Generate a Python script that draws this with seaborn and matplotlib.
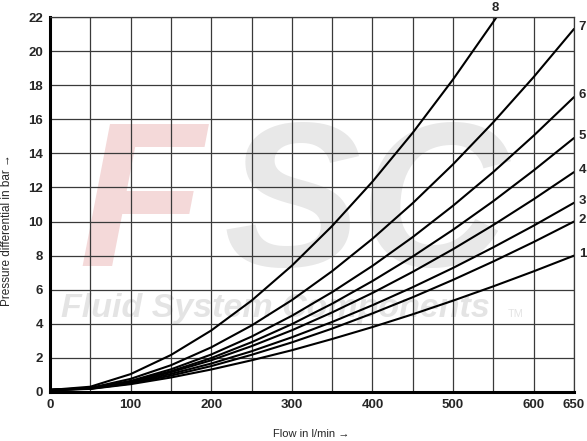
import numpy as np
import pandas as pd
import matplotlib
matplotlib.use('Agg')
import matplotlib.pyplot as plt
import seaborn as sns

# pressure differential (bar), flow in l/min
flow = [0, 50, 100, 150, 200, 250, 300, 350, 400, 450, 500, 550, 600, 650]
curve_1 = [0.12, 0.18, 0.46, 0.85, 1.32, 1.86, 2.45, 3.11, 3.81, 4.56, 5.36, 6.20, 7.08, 8.0]
curve_2 = [0.12, 0.19, 0.50, 0.96, 1.52, 2.18, 2.91, 3.72, 4.61, 5.56, 6.58, 7.66, 8.80, 10.0]
curve_3 = [0.12, 0.20, 0.55, 1.06, 1.67, 2.39, 3.21, 4.11, 5.09, 6.15, 7.28, 8.49, 9.76, 11.1]
curve_4 = [0.12, 0.21, 0.60, 1.16, 1.86, 2.69, 3.62, 4.67, 5.81, 7.05, 8.38, 9.80, 11.31, 12.9]
curve_5 = [0.12, 0.21, 0.61, 1.22, 1.99, 2.92, 3.98, 5.18, 6.51, 7.95, 9.52, 11.20, 13.00, 14.9]
curve_6 = [0.12, 0.22, 0.65, 1.33, 2.20, 3.25, 4.47, 5.86, 7.40, 9.09, 10.93, 12.91, 15.04, 17.3]
curve_7 = [0.12, 0.24, 0.77, 1.57, 2.62, 3.90, 5.39, 7.09, 8.99, 11.08, 13.36, 15.83, 18.48, 21.3]
flow_8 = [0, 50, 100, 150, 200, 250, 300, 350, 400, 450, 500, 550, 554]
curve_8 = [0.12, 0.31, 1.05, 2.17, 3.61, 5.36, 7.41, 9.74, 12.34, 15.21, 18.34, 21.72, 22.0]

curve_names = ['1', '2', '3', '4', '5', '6', '7', '8']
curve_values = [curve_1, curve_2, curve_3, curve_4, curve_5, curve_6, curve_7, curve_8]
curve_flows = [flow] * 7 + [flow_8]

x_ticks = [0, 100, 200, 300, 400, 500, 600, 650]
x_minor = [50, 150, 250, 350, 450, 550]
y_ticks = [0, 2, 4, 6, 8, 10, 12, 14, 16, 18, 20, 22]

frames = []
for name, fl, vals in zip(curve_names, curve_flows, curve_values):
    frames.append(pd.DataFrame({'flow': fl, 'dp': vals, 'curve': name}))
d = pd.concat(frames, ignore_index=True)

sns.set_style('white')
plt.rcParams['font.family'] = ['Liberation Sans', 'DejaVu Sans']

fig = plt.figure(figsize=(5.87, 4.41), dpi=100)
ax = fig.add_axes([50 / 587, 1 - 392 / 441, 524 / 587, 375 / 441])
ax.set_axisbelow(True)

# faint FSC watermark behind the grid
ax.text(35, 7.4, 'F', fontsize=148, fontweight='bold', fontstyle='italic',
        color='#f4d9d9', zorder=0.1, ha='left', va='baseline')
ax.text(215, 7.4, 'SC', fontsize=148, fontweight='bold', fontstyle='italic',
        color='#e8e8e8', zorder=0.1, ha='left', va='baseline')
ax.text(14, 4.4, 'Fluid System Components', fontsize=24.5, fontweight='bold',
        fontstyle='italic', color='#e4e4e4', zorder=0.1, ha='left', va='baseline')
ax.text(568, 4.4, 'TM', fontsize=8, color='#e4e4e4', zorder=0.1, ha='left', va='baseline')

sns.lineplot(data=d, x='flow', y='dp', hue='curve', palette={n: 'black' for n in curve_names},
             linewidth=1.5, legend=False, ax=ax, estimator=None)

ax.set_xlim(0, 650)
ax.set_ylim(0, 22)
ax.set_xticks(x_ticks)
ax.set_xticks(x_minor, minor=True)
ax.set_yticks(y_ticks)
ax.grid(True, which='both', color='#3a3a3a', linewidth=0.9)
ax.tick_params(which='both', length=0, labelsize=9.5, pad=5)
for lab in ax.get_xticklabels() + ax.get_yticklabels():
    lab.set_fontweight('bold')
ax.set_xlabel('')
ax.set_ylabel('')

for s in ['left', 'bottom']:
    ax.spines[s].set_linewidth(2.2)
    ax.spines[s].set_color('black')
for s in ['top', 'right']:
    ax.spines[s].set_linewidth(0.9)
    ax.spines[s].set_color('#3a3a3a')

# curve numbers at the line ends
for name, fl, vals in zip(curve_names[:7], curve_flows[:7], curve_values[:7]):
    ax.text(fl[-1] + 6, vals[-1] + 0.1, name, fontsize=9.5, fontweight='bold',
            ha='left', va='center', clip_on=False)
ax.text(flow_8[-1] - 2, 22.55, '8', fontsize=9.5, fontweight='bold', ha='center',
        va='center', clip_on=False)

fig.text(311 / 587, 1 - 434 / 441, 'Flow in l/min →', fontsize=8, ha='center', va='center')
fig.text(7 / 587, 1 - 230 / 441, 'Pressure differential in bar →', fontsize=8.5, rotation=90,
         ha='center', va='center')

fig.savefig('out.png', dpi=100)
